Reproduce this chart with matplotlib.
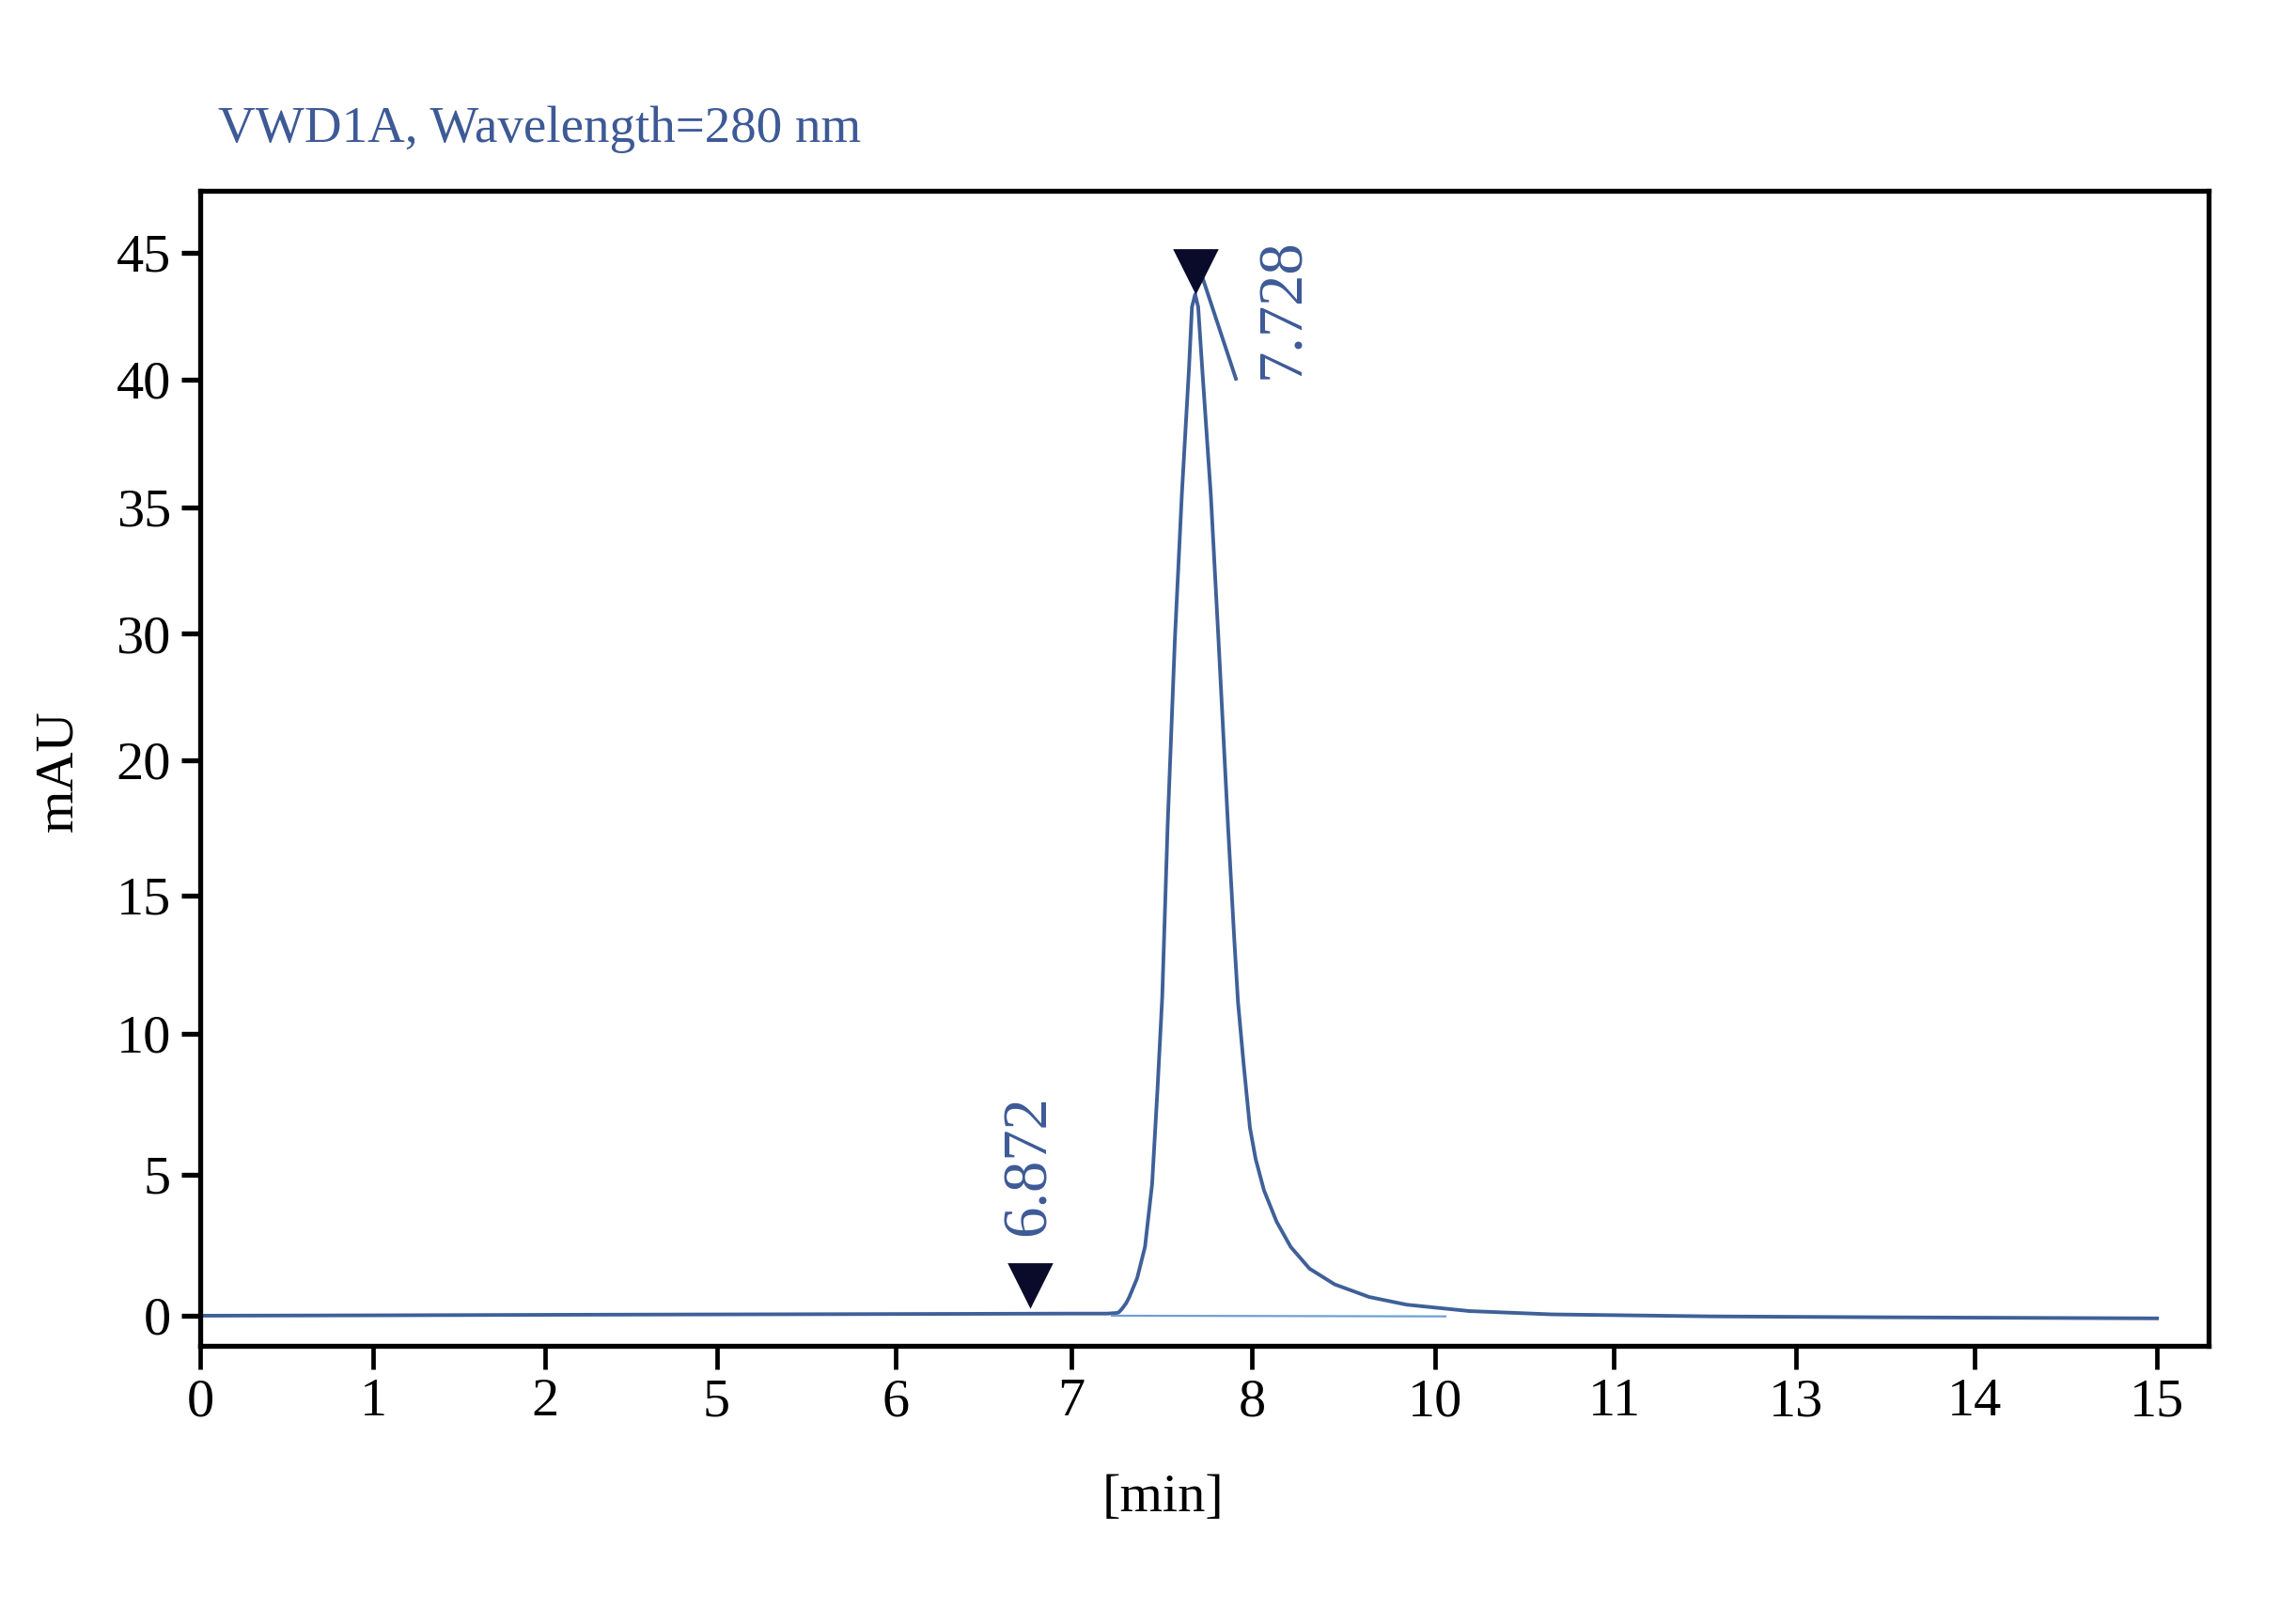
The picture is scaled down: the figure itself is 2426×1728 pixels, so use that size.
import numpy as np
import matplotlib
matplotlib.use("Agg")
import matplotlib.pyplot as plt

# axis ticks (positions, labels as printed)
x_tick_pos = [0, 0.973, 1.938, 2.903, 3.908, 4.898, 5.912, 6.942, 7.948, 8.970, 9.975, 10.997]
x_tick_lab = ['0', '1', '2', '5', '6', '7', '8', '10', '11', '13', '14', '15']
y_tick_pos = [0, 1.061, 2.122, 3.162, 4.179, 5.131, 6.083, 7.046, 8.0]
y_tick_lab = ['0', '5', '10', '15', '20', '30', '35', '40', '45']

# chromatogram trace (axis units)
trace_x = [0.0, 1.0, 2.0, 3.0, 4.0, 4.9, 5.10, 5.144, 5.161, 5.179, 5.205, 5.223,
           5.267, 5.311, 5.351, 5.381, 5.408, 5.438, 5.479, 5.518, 5.558, 5.575,
           5.593, 5.61, 5.633, 5.681, 5.724, 5.778, 5.813, 5.834, 5.866, 5.901,
           5.933, 5.980, 6.051, 6.130, 6.236, 6.377, 6.571, 6.782, 7.134, 7.6,
           8.5, 9.5, 11.0]
trace_y = [0.0, 0.003, 0.007, 0.010, 0.013, 0.016, 0.016, 0.02, 0.023, 0.047, 0.094, 0.141,
           0.283, 0.518, 0.99, 1.697, 2.40, 3.677, 5.09, 6.176, 7.12, 7.59,
           7.685, 7.59, 7.12, 6.176, 5.09, 3.677, 2.829, 2.357, 1.886, 1.414,
           1.179, 0.943, 0.707, 0.518, 0.354, 0.236, 0.141, 0.083, 0.035, 0.010,
           -0.005, -0.012, -0.02]

# integration baseline under the peak
base_x = [5.125, 7.0]
base_y = [0.0, -0.005]

# peak markers and retention time labels
peak_labels = ['6.872', '7.728']
peak_x = [4.664, 5.597]
peak_y = [0.23, 7.86]
label_x = [4.66, 6.087]
label_y = [1.13, 7.58]
tick_line_x = [5.637, 5.822]
tick_line_y = [7.80, 7.05]

line_color = '#3f6098'
text_color = '#3d5a96'

plt.rcParams['font.family'] = ['Liberation Serif', 'DejaVu Serif']

fig = plt.figure(figsize=(12.13, 8.64), dpi=200)
ax = fig.add_axes([0.0878, 0.1715, 0.8809, 0.7111])

ax.plot(trace_x, trace_y, color=line_color, lw=1.4, solid_joinstyle='round')
ax.plot(base_x, base_y, color='#6f9fd4', lw=0.8)
ax.plot(tick_line_x, tick_line_y, color=line_color, lw=1.4)
ax.plot(peak_x, peak_y, 'v', color='#0a0a2a', markersize=16, linestyle='none')

for lab, lx, ly in zip(peak_labels, label_x, label_y):
    ax.text(lx, ly, lab, rotation=90, ha='center', va='center',
            color=text_color, fontsize=24)

ax.set_xlim(0, 11.29)
ax.set_ylim(-0.224, 8.465)
ax.set_xticks(x_tick_pos, x_tick_lab)
ax.set_yticks(y_tick_pos, y_tick_lab)
ax.tick_params(axis='x', length=9, width=1.7, pad=3.5, labelsize=21, direction='out')
ax.tick_params(axis='y', length=7.2, width=1.9, pad=4, labelsize=21, direction='out')
for sp in ax.spines.values():
    sp.set_linewidth(1.9)
    sp.set_color('black')

fig.text(0.0956, 0.920, 'VWD1A, Wavelength=280 nm', ha='left', va='center',
         fontsize=19.8, color=text_color)
fig.text(0.0256, 0.5255, 'mAU', rotation=90, ha='center', va='center', fontsize=21)
fig.text(0.510, 0.0775, '[min]', ha='center', va='center', fontsize=21)

fig.savefig('out.png', dpi=200, facecolor='white')
